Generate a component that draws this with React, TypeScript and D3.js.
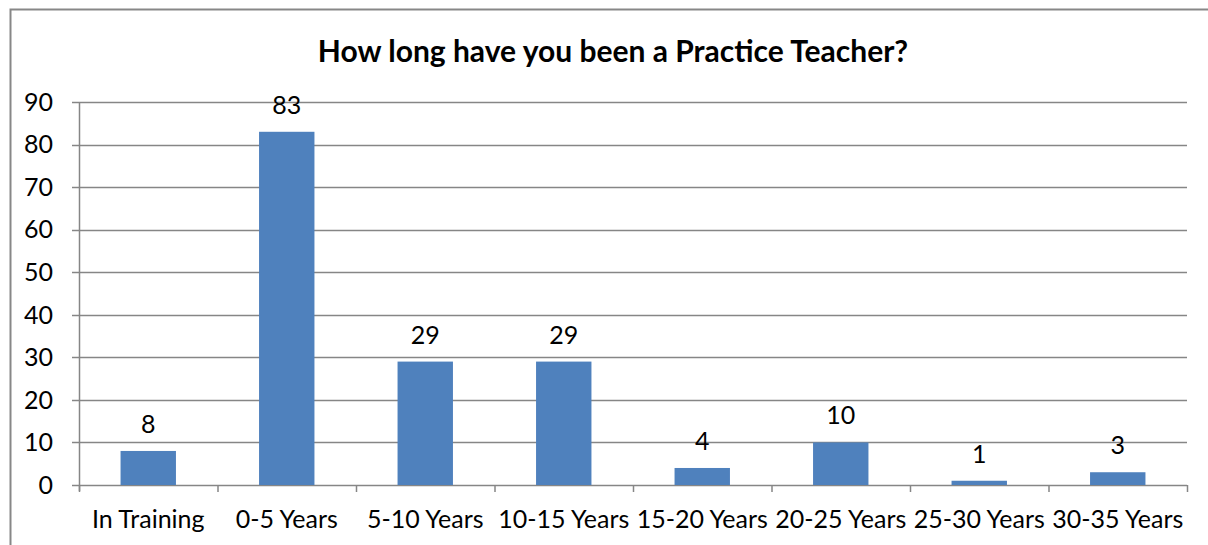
import { useEffect, useRef } from "react";
import * as d3 from "d3";

const categories = ["In Training", "0-5 Years", "5-10 Years", "10-15 Years", "15-20 Years", "20-25 Years", "25-30 Years", "30-35 Years"];
const counts = [8, 83, 29, 29, 4, 10, 1, 3];
const yTicks = [0, 10, 20, 30, 40, 50, 60, 70, 80, 90];

const W = 1208;
const H = 545;
const FONT = "Lato, 'Open Sans', sans-serif";

const App = () => {
  const ref = useRef<SVGSVGElement>(null);

  useEffect(() => {
    const svg = d3.select(ref.current);
    svg.selectAll("*").remove();

    const left = 79, right = 1187, top = 102, bottom = 485;

    // chart frame
    svg.append("path")
      .attr("d", `M10.5,${H} V9.5 H${W}`)
      .attr("fill", "none")
      .attr("stroke", "#878787")
      .attr("stroke-width", 2);

    svg.append("text")
      .attr("x", 613)
      .attr("y", 62)
      .attr("text-anchor", "middle")
      .attr("font-family", FONT)
      .attr("font-weight", "bold")
      .attr("font-size", 30)
      .text("How long have you been a Practice Teacher?");

    const x = d3.scaleBand().domain(categories).range([left, right]).paddingInner(0.6).paddingOuter(0.3);
    const y = d3.scaleLinear().domain([0, 90]).range([bottom, top]);

    const grid = svg.append("g");
    grid.selectAll("line")
      .data(yTicks)
      .enter()
      .append("line")
      .attr("x1", left - 7)
      .attr("x2", right)
      .attr("y1", d => Math.round(y(d)) + 0.5)
      .attr("y2", d => Math.round(y(d)) + 0.5)
      .attr("stroke", "#868686")
      .attr("stroke-width", 1.5);

    svg.append("g")
      .selectAll("text")
      .data(yTicks)
      .enter()
      .append("text")
      .attr("x", 53)
      .attr("y", d => y(d))
      .attr("dy", "0.35em")
      .attr("text-anchor", "end")
      .attr("font-family", FONT)
      .attr("font-size", 25)
      .text(d => d);

    svg.append("g")
      .selectAll("rect")
      .data(counts)
      .enter()
      .append("rect")
      .attr("x", (_, i) => x(categories[i])!)
      .attr("width", x.bandwidth())
      .attr("y", d => y(d))
      .attr("height", d => bottom - y(d))
      .attr("fill", "#4F81BD");

    svg.append("g")
      .selectAll("text")
      .data(counts)
      .enter()
      .append("text")
      .attr("x", (_, i) => x(categories[i])! + x.bandwidth() / 2)
      .attr("y", d => y(d) - 18)
      .attr("text-anchor", "middle")
      .attr("font-family", FONT)
      .attr("font-size", 25)
      .text(d => d);

    // axes lines
    svg.append("line")
      .attr("x1", left + 0.5).attr("x2", left + 0.5)
      .attr("y1", top).attr("y2", bottom + 6)
      .attr("stroke", "#868686").attr("stroke-width", 1.5);

    const step = x.step();
    const tickXs = d3.range(categories.length + 1).map(i => left + i * step);
    svg.append("g")
      .selectAll("line")
      .data(tickXs)
      .enter()
      .append("line")
      .attr("x1", d => d + 0.5).attr("x2", d => d + 0.5)
      .attr("y1", bottom).attr("y2", bottom + 7)
      .attr("stroke", "#868686").attr("stroke-width", 1.5);

    svg.append("g")
      .selectAll("text")
      .data(categories)
      .enter()
      .append("text")
      .attr("x", d => x(d)! + x.bandwidth() / 2)
      .attr("y", 528)
      .attr("text-anchor", "middle")
      .attr("font-family", FONT)
      .attr("font-size", 25)
      .text(d => d);
  }, []);

  return (
    <svg ref={ref} width={W} height={H} style={{ position: "absolute", left: 0, top: 0, background: "#fff" }} />
  );
};

export default App;
